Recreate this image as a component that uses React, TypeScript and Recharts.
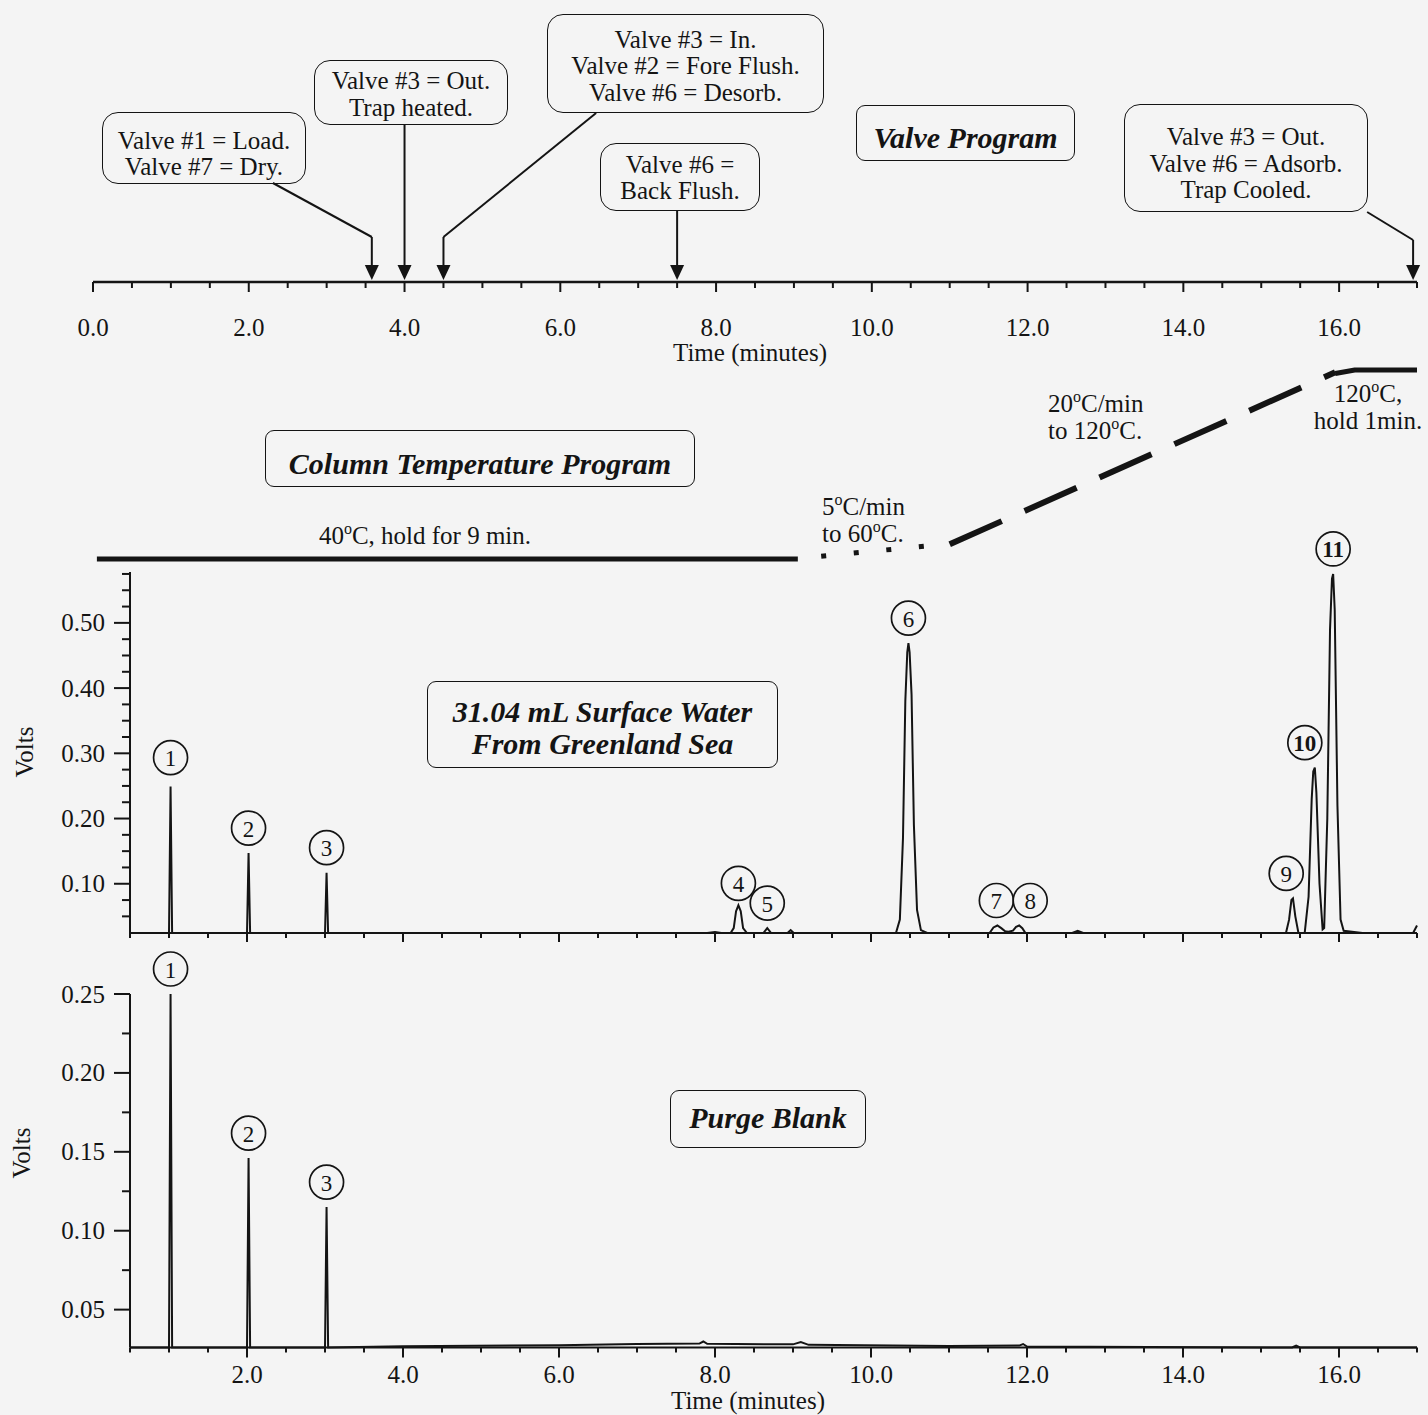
import React from "react";
import { ComposedChart, LineChart, Line, Scatter, XAxis, YAxis, ReferenceLine } from "recharts";

const SERIF = '"Liberation Serif", "Times New Roman", Times, serif';
const INK = "#141414";
const PAPER = "#f4f4f4";

// valve program: switching times (min)
const valveEvents = [
  { t: 3.58, h: 0 },
  { t: 4.0, h: 0 },
  { t: 4.5, h: 0 },
  { t: 7.5, h: 0 },
  { t: 16.95, h: 0 },
];
const valveTicks = [0, 0.5, 1, 1.5, 2, 2.5, 3, 3.5, 4, 4.5, 5, 5.5, 6, 6.5, 7, 7.5, 8, 8.5, 9, 9.5, 10, 10.5, 11, 11.5, 12, 12.5, 13, 13.5, 14, 14.5, 15, 15.5, 16, 16.5, 17];
const valveTickLabels = [0, 2, 4, 6, 8, 10, 12, 14, 16];

// column temperature program (min, degC)
const tempHold = [{ t: 0.05, T: 40 }, { t: 9.05, T: 40 }];
const tempSlowRamp = [{ t: 9.35, T: 41.2 }, { t: 10.7, T: 45.5 }];
const tempFastRamp = [{ t: 11.0, T: 46.2 }, { t: 15.95, T: 119 }];
const tempFinalHold = [{ t: 15.95, T: 118.5 }, { t: 16.2, T: 120 }, { t: 17.0, T: 120 }];

// chromatograms
const timeTicks = [0.5, 1, 1.5, 2, 2.5, 3, 3.5, 4, 4.5, 5, 5.5, 6, 6.5, 7, 7.5, 8, 8.5, 9, 9.5, 10, 10.5, 11, 11.5, 12, 12.5, 13, 13.5, 14, 14.5, 15, 15.5, 16, 16.5, 17];
const timeTickLabels = [2, 4, 6, 8, 10, 12, 14, 16];

const seaVoltTicks = [0.05, 0.075, 0.1, 0.125, 0.15, 0.175, 0.2, 0.225, 0.25, 0.275, 0.3, 0.325, 0.35, 0.375, 0.4, 0.425, 0.45, 0.475, 0.5, 0.525, 0.55, 0.575];
const seaVoltLabels = [0.1, 0.2, 0.3, 0.4, 0.5];
const blankVoltTicks = [0.05, 0.075, 0.1, 0.125, 0.15, 0.175, 0.2, 0.225, 0.25];
const blankVoltLabels = [0.05, 0.1, 0.15, 0.2, 0.25];

const seaTrace = [
  { t: 0.5, v: 0.0245 }, { t: 1.0, v: 0.0245 }, { t: 1.02, v: 0.249 }, { t: 1.04, v: 0.0245 },
  { t: 2.0, v: 0.0245 }, { t: 2.02, v: 0.147 }, { t: 2.04, v: 0.0245 },
  { t: 3.0, v: 0.0245 }, { t: 3.02, v: 0.117 }, { t: 3.04, v: 0.0245 },
  { t: 7.9, v: 0.0245 }, { t: 8.0, v: 0.0262 }, { t: 8.08, v: 0.0245 },
  { t: 8.2, v: 0.0245 }, { t: 8.24, v: 0.032 }, { t: 8.27, v: 0.058 }, { t: 8.3, v: 0.067 }, { t: 8.33, v: 0.058 }, { t: 8.36, v: 0.032 }, { t: 8.41, v: 0.0245 },
  { t: 8.62, v: 0.0245 }, { t: 8.67, v: 0.032 }, { t: 8.72, v: 0.0245 },
  { t: 8.93, v: 0.0245 }, { t: 8.97, v: 0.029 }, { t: 9.01, v: 0.0245 },
  { t: 10.32, v: 0.0245 }, { t: 10.37, v: 0.045 }, { t: 10.41, v: 0.17 }, { t: 10.44, v: 0.38 }, { t: 10.465, v: 0.455 }, { t: 10.48, v: 0.469 },
  { t: 10.495, v: 0.455 }, { t: 10.52, v: 0.39 }, { t: 10.55, v: 0.19 }, { t: 10.59, v: 0.06 }, { t: 10.64, v: 0.029 }, { t: 10.72, v: 0.0245 },
  { t: 11.52, v: 0.0245 }, { t: 11.57, v: 0.033 }, { t: 11.62, v: 0.036 }, { t: 11.67, v: 0.032 }, { t: 11.72, v: 0.027 },
  { t: 11.76, v: 0.0265 }, { t: 11.82, v: 0.028 }, { t: 11.86, v: 0.034 }, { t: 11.9, v: 0.036 }, { t: 11.94, v: 0.032 }, { t: 11.98, v: 0.0245 },
  { t: 12.58, v: 0.0245 }, { t: 12.65, v: 0.028 }, { t: 12.72, v: 0.0245 },
  { t: 15.32, v: 0.0245 }, { t: 15.36, v: 0.045 }, { t: 15.39, v: 0.075 }, { t: 15.41, v: 0.0775 }, { t: 15.44, v: 0.05 }, { t: 15.48, v: 0.0245 },
  { t: 15.56, v: 0.0245 }, { t: 15.61, v: 0.08 }, { t: 15.65, v: 0.23 }, { t: 15.67, v: 0.272 }, { t: 15.69, v: 0.278 }, { t: 15.71, v: 0.24 }, { t: 15.75, v: 0.1 }, { t: 15.79, v: 0.03 },
  { t: 15.81, v: 0.032 }, { t: 15.85, v: 0.2 }, { t: 15.885, v: 0.49 }, { t: 15.91, v: 0.568 }, { t: 15.925, v: 0.575 }, { t: 15.945, v: 0.52 }, { t: 15.98, v: 0.22 },
  { t: 16.02, v: 0.045 }, { t: 16.06, v: 0.028 }, { t: 16.3, v: 0.0245 }, { t: 16.95, v: 0.0245 }, { t: 17.0, v: 0.036 },
];
const seaPeaks = [
  { n: 1, t: 1.02, v: 0.249 }, { n: 2, t: 2.02, v: 0.147 }, { n: 3, t: 3.02, v: 0.117 },
  { n: 4, t: 8.3, v: 0.067 }, { n: 5, t: 8.67, v: 0.032 }, { n: 6, t: 10.48, v: 0.469 },
  { n: 7, t: 11.62, v: 0.036 }, { n: 8, t: 11.9, v: 0.036 }, { n: 9, t: 15.4, v: 0.0775 },
  { n: 10, t: 15.69, v: 0.278 }, { n: 11, t: 15.925, v: 0.575 },
];

const blankTrace = [
  { t: 0.5, v: 0.026 }, { t: 1.0, v: 0.026 }, { t: 1.02, v: 0.25 }, { t: 1.04, v: 0.026 },
  { t: 2.0, v: 0.026 }, { t: 2.02, v: 0.146 }, { t: 2.04, v: 0.026 },
  { t: 3.0, v: 0.026 }, { t: 3.02, v: 0.115 }, { t: 3.04, v: 0.026 },
  { t: 4.0, v: 0.0268 }, { t: 6.0, v: 0.0275 }, { t: 7.0, v: 0.0282 }, { t: 7.8, v: 0.0285 }, { t: 7.85, v: 0.0298 }, { t: 7.9, v: 0.0283 },
  { t: 9.0, v: 0.028 }, { t: 9.1, v: 0.0295 }, { t: 9.2, v: 0.0277 }, { t: 11.0, v: 0.027 },
  { t: 11.9, v: 0.0272 }, { t: 11.95, v: 0.0282 }, { t: 12.0, v: 0.0266 },
  { t: 15.4, v: 0.026 }, { t: 15.45, v: 0.0272 }, { t: 15.5, v: 0.026 }, { t: 17.0, v: 0.026 },
];
const blankPeaks = [
  { n: 1, t: 1.02, v: 0.25 }, { n: 2, t: 2.02, v: 0.146 }, { n: 3, t: 3.02, v: 0.115 },
];

// badge placement tweaks (px): sideways nudge, and height above the apex
const seaBadgeNudge: Record<number, number> = { 7: -1, 8: 11, 9: -6, 10: -10 };
const seaBadgeLift: Record<number, number> = { 1: 29, 4: 22 };

// leader lines from the callout boxes down to the arrows (minutes, px above axis)
const leaderPaths = [
  [[2.31, 99], [3.58, 45], [3.58, 12]],
  [[4.0, 157], [4.0, 12]],
  [[6.46, 169], [4.5, 45], [4.5, 12]],
  [[7.5, 71], [7.5, 12]],
  [[16.36, 70], [16.95, 42], [16.95, 12]],
];

const near = (list: number[], v: number) => list.some((l) => Math.abs(l - v) < 1e-9);

const timeTick = (labels: number[], major: number, minor: number, labelDy: number | null) => (p: any) => {
  const v = p.payload.value;
  const isMajor = near(labels, v);
  return (
    <g>
      <line x1={p.x} x2={p.x} y1={p.y} y2={p.y + (isMajor ? major : minor)} stroke={INK} strokeWidth={2} />
      {labelDy !== null && isMajor && (
        <text x={p.x} y={p.y + labelDy} textAnchor="middle" dominantBaseline="central" fontFamily={SERIF} fontSize={25} fill={INK}>
          {v.toFixed(1)}
        </text>
      )}
    </g>
  );
};

const voltTick = (labels: number[]) => (p: any) => {
  const v = p.payload.value;
  const isMajor = near(labels, v);
  return (
    <g>
      <line x1={p.x - (isMajor ? 16 : 8)} x2={p.x} y1={p.y} y2={p.y} stroke={INK} strokeWidth={2} />
      {isMajor && (
        <text x={p.x - 25} y={p.y} textAnchor="end" dominantBaseline="central" fontFamily={SERIF} fontSize={25} fill={INK}>
          {v.toFixed(2)}
        </text>
      )}
    </g>
  );
};

function Arrowhead(props: any) {
  const { cx, cy } = props;
  return <polygon points={`${cx},${cy - 2} ${cx - 7},${cy - 17} ${cx + 7},${cy - 17}`} fill={INK} />;
}

const peakBadge = (nudge: Record<number, number>, lift: Record<number, number>) => (props: any) => {
  const { cx, cy, payload } = props;
  const x = cx + (nudge[payload.n] ?? 0);
  const y = cy - (lift[payload.n] ?? 25);
  return (
    <g>
      <circle cx={x} cy={y} r={17} fill={PAPER} stroke={INK} strokeWidth={1.7} />
      <text x={x} y={y + 1} textAnchor="middle" dominantBaseline="central" fontFamily={SERIF} fontSize={23}
        fontWeight={payload.n >= 10 ? 700 : 400} fill={INK}>
        {payload.n}
      </text>
    </g>
  );
};

const Deg = () => <span style={{ fontSize: 16, position: "relative", top: -10, lineHeight: 0 }}>o</span>;

function Box(props: { x: number; y: number; w: number; h: number; dy?: number; title?: boolean; children: React.ReactNode }) {
  const { x, y, w, h, dy = 0, title = false, children } = props;
  return (
    <div
      style={{
        position: "absolute", left: x, top: y, width: w, height: h, boxSizing: "border-box",
        border: `1.6px solid ${INK}`, borderRadius: title ? 9 : 16,
        display: "flex", alignItems: "center", justifyContent: "center",
        fontFamily: SERIF, fontSize: title ? 30 : 25, fontStyle: title ? "italic" : "normal",
        fontWeight: title ? 700 : 400, lineHeight: title ? "32px" : "26.5px",
        textAlign: "center", whiteSpace: "nowrap", color: INK,
      }}
    >
      <div style={{ transform: `translateY(${dy}px)` }}>{children}</div>
    </div>
  );
}

function Note(props: { x: number; y: number; w: number; lh?: number; align?: "left" | "center"; children: React.ReactNode }) {
  const { x, y, w, lh = 27, align = "left", children } = props;
  return (
    <div style={{ position: "absolute", left: x, top: y, width: w, fontFamily: SERIF, fontSize: 25, lineHeight: `${lh}px`, textAlign: align, whiteSpace: "nowrap", color: INK }}>
      {children}
    </div>
  );
}

function VoltsLabel({ x, y }: { x: number; y: number }) {
  return (
    <div style={{ position: "absolute", left: x - 40, top: y - 14, width: 80, textAlign: "center", fontFamily: SERIF, fontSize: 25, lineHeight: "28px", transform: "rotate(-90deg)", color: INK }}>
      Volts
    </div>
  );
}

export default function App() {
  return (
    <div style={{ position: "absolute", left: 0, top: 0, width: 1428, height: 1415, background: PAPER, overflow: "hidden" }}>
      {/* valve program timeline */}
      <div style={{ position: "absolute", left: 0, top: 0 }}>
        <ComposedChart width={1428} height={370} data={valveEvents} margin={{ top: 0, right: 11, bottom: 0, left: 93 }}>
          <XAxis dataKey="t" type="number" domain={[0, 17]} ticks={valveTicks} interval={0} height={88} tickSize={0} tickMargin={0}
            axisLine={{ stroke: INK, strokeWidth: 2.5 }} tickLine={false} tick={timeTick(valveTickLabels, 10, 6, 45)} />
          <YAxis hide type="number" domain={[0, 282]} />
          {leaderPaths.flatMap((path, i) =>
            path.slice(1).map((pt, j) => (
              <ReferenceLine key={`${i}-${j}`} ifOverflow="visible" stroke={INK} strokeWidth={2}
                segment={[{ x: path[j][0], y: path[j][1] }, { x: pt[0], y: pt[1] }]} />
            ))
          )}
          <Scatter dataKey="h" shape={(p: any) => <Arrowhead {...p} />} isAnimationActive={false} />
        </ComposedChart>
      </div>

      {/* column temperature program */}
      <div style={{ position: "absolute", left: 0, top: 340 }}>
        <LineChart width={1428} height={240} margin={{ top: 30, right: 11, bottom: 21, left: 93 }}>
          <XAxis hide dataKey="t" type="number" domain={[0, 17]} />
          <YAxis hide type="number" domain={[40, 120]} />
          <Line data={tempHold} dataKey="T" stroke={INK} strokeWidth={5} dot={false} activeDot={false} isAnimationActive={false} />
          <Line data={tempSlowRamp} dataKey="T" stroke={INK} strokeWidth={5} strokeDasharray="5 27.7" dot={false} activeDot={false} isAnimationActive={false} />
          <Line data={tempFastRamp} dataKey="T" stroke={INK} strokeWidth={6} strokeDasharray="57 25" dot={false} activeDot={false} isAnimationActive={false} />
          <Line data={tempFinalHold} dataKey="T" stroke={INK} strokeWidth={5} dot={false} activeDot={false} isAnimationActive={false} />
        </LineChart>
      </div>

      {/* surface water chromatogram */}
      <div style={{ position: "absolute", left: 0, top: 520 }}>
        <ComposedChart width={1428} height={440} margin={{ top: 52, right: 11, bottom: 0, left: 0 }}>
          <XAxis dataKey="t" type="number" domain={[0.5, 17]} ticks={timeTicks} interval={0} height={27} tickSize={0} tickMargin={0}
            axisLine={{ stroke: INK, strokeWidth: 2 }} tickLine={false} tick={timeTick(timeTickLabels, 9, 5, null)} />
          <YAxis type="number" domain={[0.0245, 0.578]} ticks={seaVoltTicks} interval={0} width={130} tickSize={0} tickMargin={0}
            axisLine={{ stroke: INK, strokeWidth: 2 }} tickLine={false} tick={voltTick(seaVoltLabels)} />
          <Line data={seaTrace} dataKey="v" type="linear" stroke={INK} strokeWidth={2} dot={false} activeDot={false} isAnimationActive={false} />
          <Scatter data={seaPeaks} dataKey="v" shape={peakBadge(seaBadgeNudge, seaBadgeLift)} isAnimationActive={false} />
        </ComposedChart>
      </div>

      {/* purge blank chromatogram */}
      <div style={{ position: "absolute", left: 0, top: 940 }}>
        <ComposedChart width={1428} height={470} margin={{ top: 54, right: 11, bottom: 0, left: 0 }}>
          <XAxis dataKey="t" type="number" domain={[0.5, 17]} ticks={timeTicks} interval={0} height={62.5} tickSize={0} tickMargin={0}
            axisLine={{ stroke: INK, strokeWidth: 2 }} tickLine={false} tick={timeTick(timeTickLabels, 10, 5, 27)} />
          <YAxis type="number" domain={[0.026, 0.25]} ticks={blankVoltTicks} interval={0} width={130} tickSize={0} tickMargin={0}
            axisLine={{ stroke: INK, strokeWidth: 2 }} tickLine={false} tick={voltTick(blankVoltLabels)} />
          <Line data={blankTrace} dataKey="v" type="linear" stroke={INK} strokeWidth={2} dot={false} activeDot={false} isAnimationActive={false} />
          <Scatter data={blankPeaks} dataKey="v" shape={peakBadge({}, {})} isAnimationActive={false} />
        </ComposedChart>
      </div>

      {/* callouts */}
      <Box x={102} y={112} w={204} h={72} dy={6}>Valve #1 = Load.<br />Valve #7 = Dry.</Box>
      <Box x={314} y={60} w={194} h={65} dy={1.5}>Valve #3 = Out.<br />Trap heated.</Box>
      <Box x={547} y={14} w={277} h={99} dy={3}>Valve #3 = In.<br />Valve #2 = Fore Flush.<br />Valve #6 = Desorb.</Box>
      <Box x={600} y={143} w={160} h={68} dy={1}>Valve #6 =<br />Back Flush.</Box>
      <Box x={856} y={105} w={219} h={56} dy={5} title>Valve Program</Box>
      <Box x={1124} y={104} w={244} h={108} dy={5.5}>Valve #3 = Out.<br />Valve #6 = Adsorb.<br />Trap Cooled.</Box>

      <Box x={265} y={430} w={430} h={57} dy={4.5} title>Column Temperature Program</Box>
      <Box x={427} y={681} w={351} h={87} dy={2.5} title>31.04 mL Surface Water<br />From Greenland Sea</Box>
      <Box x={670} y={1090} w={196} h={58} dy={-1} title>Purge Blank</Box>

      <Note x={300} y={522} w={250} align="center">40<Deg />C, hold for 9 min.</Note>
      <Note x={822} y={493} w={120}>5<Deg />C/min<br />to 60<Deg />C.</Note>
      <Note x={1048} y={390} w={130}>20<Deg />C/min<br />to 120<Deg />C.</Note>
      <Note x={1303} y={380} w={130} align="center">120<Deg />C,<br />hold 1min.</Note>

      <Note x={630} y={339} w={240} align="center">Time (minutes)</Note>
      <Note x={628} y={1388} w={240} lh={26} align="center">Time (minutes)</Note>
      <VoltsLabel x={25} y={752} />
      <VoltsLabel x={22} y={1153} />
    </div>
  );
}
